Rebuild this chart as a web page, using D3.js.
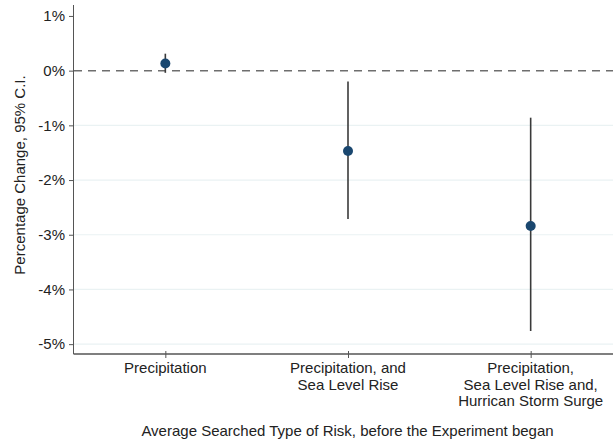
<!DOCTYPE html>
<html>
<head>
<meta charset="utf-8">
<script src="https://cdn.jsdelivr.net/npm/d3@7"></script>
<style>
  html, body { margin: 0; padding: 0; background: #fff; }
  svg { display: block; font-family: "Liberation Sans", Arial, sans-serif; }
</style>
</head>
<body>
<svg id="chart" width="613" height="443"></svg>
<script>
const categories = [
  ["Precipitation"],
  ["Precipitation, and", "Sea Level Rise"],
  ["Precipitation,", "Sea Level Rise and,", "Hurrican Storm Surge"]
];
const estimates = [0.13, -1.47, -2.84];
const ciLow = [-0.04, -2.71, -4.76];
const ciHigh = [0.31, -0.20, -0.86];
const yTicks = [1, 0, -1, -2, -3, -4, -5];
const gridTicks = [-1, -2, -3, -4, -5];
const yTitle = "Percentage Change, 95% C.I.";
const xTitle = "Average Searched Type of Risk, before the Experiment began";

(function () {
const svg = d3.select("#chart");
const pLeft = 74, pRight = 622, pTop = 5, pBottom = 354;
const fs = 15;

const x = d3.scalePoint().domain(d3.range(categories.length)).range([pLeft, pRight]).padding(0.5);
const y = d3.scaleLinear().domain([-5.18, 1.2]).range([pBottom, pTop]);

// gridlines
svg.append("g").selectAll("line").data(gridTicks).join("line")
  .attr("x1", pLeft).attr("x2", 613)
  .attr("y1", d => y(d)).attr("y2", d => y(d))
  .attr("stroke", "#eaf2f3").attr("stroke-width", 1.2);

// zero dashed line
svg.append("line")
  .attr("x1", pLeft).attr("x2", 613)
  .attr("y1", y(0)).attr("y2", y(0))
  .attr("stroke", "#6e6e6e").attr("stroke-width", 1.5)
  .attr("stroke-dasharray", "8,6");

// y axis
const yAxis = svg.append("g").attr("transform", `translate(${pLeft},0)`)
  .call(d3.axisLeft(y).tickValues(yTicks).tickSize(5).tickPadding(4).tickFormat(d => d + "%"));
yAxis.select(".domain").attr("d", `M-0.5,${pTop}V${pBottom}`).attr("stroke", "#555");
yAxis.selectAll(".tick line").attr("stroke", "#555");
yAxis.selectAll("text").attr("font-size", fs).attr("fill", "#222")
  .attr("font-family", "Liberation Sans, Arial, sans-serif");

// x axis
const xAxis = svg.append("g").attr("transform", `translate(0,${pBottom})`)
  .call(d3.axisBottom(x).tickSize(4).tickFormat(""));
xAxis.select(".domain").attr("d", `M${pLeft - 0.5},0H613`).attr("stroke", "#555").attr("stroke-width", 1.5);
xAxis.selectAll(".tick line").attr("stroke", "#555").attr("y1", -3);

const labels = svg.append("g").selectAll("text").data(categories).join("text")
  .attr("x", (d, i) => x(i))
  .attr("y", pBottom + 19)
  .attr("text-anchor", "middle")
  .attr("font-size", fs).attr("fill", "#222");
labels.selectAll("tspan").data(d => d).join("tspan")
  .attr("x", function() { return d3.select(this.parentNode).attr("x"); })
  .attr("dy", (d, i) => i === 0 ? 0 : 16.5)
  .text(d => d);

// CI lines
svg.append("g").selectAll("line").data(estimates).join("line")
  .attr("x1", (d, i) => x(i)).attr("x2", (d, i) => x(i))
  .attr("y1", (d, i) => y(ciLow[i])).attr("y2", (d, i) => y(ciHigh[i]))
  .attr("stroke", "#3a3a3a").attr("stroke-width", 1.6);

// points
svg.append("g").selectAll("circle").data(estimates).join("circle")
  .attr("cx", (d, i) => x(i)).attr("cy", d => y(d))
  .attr("r", 5).attr("fill", "#1a476f");

// titles
svg.append("text")
  .attr("transform", `translate(25,175) rotate(-90)`)
  .attr("text-anchor", "middle").attr("font-size", fs).attr("fill", "#222")
  .text(yTitle);

svg.append("text")
  .attr("x", 347.5).attr("y", 436)
  .attr("text-anchor", "middle").attr("font-size", fs).attr("fill", "#222")
  .text(xTitle);
})();
</script>
</body>
</html>
